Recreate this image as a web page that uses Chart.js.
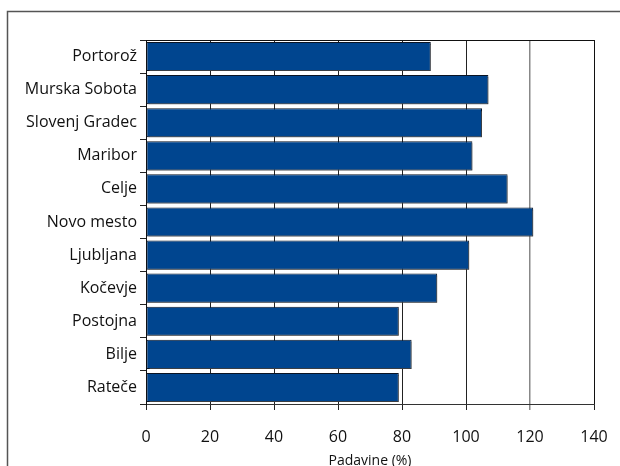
<!DOCTYPE html>
<html>
<head>
<meta charset="utf-8">
<script src="https://cdn.jsdelivr.net/npm/chart.js@4"></script>
<style>
  html, body { margin: 0; padding: 0; background: #fff; }
  #wrap { width: 620px; height: 466px; position: relative; }
</style>
</head>
<body>
<div id="wrap"><canvas id="chart" width="620" height="466"></canvas></div>
<script>
// Podatki - padavine v primerjavi s povprečjem
const stations = ['Portorož', 'Murska Sobota', 'Slovenj Gradec', 'Maribor', 'Celje',
    'Novo mesto', 'Ljubljana', 'Kočevje', 'Postojna', 'Bilje', 'Rateče'];
const precipitation = [89, 107, 105, 102, 113, 121, 101, 91, 79, 83, 79];
const xTicks = [0, 20, 40, 60, 80, 100, 120, 140];

const FONT = '"Open Sans", Roboto, sans-serif';

// okvir okrog slike + zgornja in desna črta risalne površine
const framePlugin = {
    id: 'frame',
    beforeDraw(chart) {
        const ctx = chart.ctx;
        ctx.save();
        ctx.strokeStyle = '#555';
        ctx.lineWidth = 1.5;
        ctx.beginPath();
        ctx.moveTo(7.5, 470);
        ctx.lineTo(7.5, 11.5);
        ctx.lineTo(625, 11.5);
        ctx.stroke();
        ctx.restore();
    },
    afterDraw(chart) {
        const { ctx, chartArea: a } = chart;
        ctx.save();
        ctx.strokeStyle = '#111';
        ctx.lineWidth = 1;
        ctx.beginPath();
        ctx.moveTo(a.left, a.top + 0.5);
        ctx.lineTo(a.right + 0.5, a.top + 0.5);
        ctx.lineTo(a.right + 0.5, a.bottom);
        ctx.stroke();
        ctx.restore();
    }
};

// senca pod stolpci
const shadowPlugin = {
    id: 'barShadow',
    beforeDatasetsDraw(chart) {
        const ctx = chart.ctx;
        ctx.save();
        ctx.shadowColor = 'rgba(90,90,90,0.6)';
        ctx.shadowOffsetX = 2;
        ctx.shadowOffsetY = 2;
        ctx.shadowBlur = 0;
    },
    afterDatasetsDraw(chart) {
        chart.ctx.restore();
    }
};

new Chart(document.getElementById('chart'), {
    type: 'bar',
    data: {
        labels: stations,
        datasets: [{
            data: precipitation,
            backgroundColor: '#00458F',
            borderColor: '#0a1424',
            borderWidth: 1,
            borderSkipped: false,
            barPercentage: 0.88,
            categoryPercentage: 1
        }]
    },
    plugins: [framePlugin, shadowPlugin],
    options: {
        indexAxis: 'y',
        responsive: false,
        animation: false,
        layout: { padding: { top: 40, right: 26, left: 0, bottom: 0 } },
        plugins: {
            legend: { display: false },
            tooltip: { enabled: false }
        },
        scales: {
            x: {
                min: 0,
                max: 140,
                afterBuildTicks: scale => { scale.ticks = xTicks.map(v => ({ value: v })); },
                afterFit: scale => {
                    scale.height = 62;
                    scale.paddingLeft = 0;
                    scale.paddingRight = 0;
                },
                grid: {
                    color: ctx => ctx.tick && ctx.tick.value === 120 ? '#888' : '#222',
                    lineWidth: ctx => ctx.tick && ctx.tick.value === 120 ? 1.5 : 1,
                    tickLength: 6,
                    drawOnChartArea: true
                },
                border: { color: '#333', width: 1 },
                ticks: {
                    color: '#111',
                    padding: 18,
                    font: { family: FONT, size: 16 }
                },
                title: {
                    display: true,
                    text: 'Padavine (%)',
                    color: '#111',
                    padding: { top: 0, bottom: -3 },
                    font: { family: FONT, size: 14 }
                }
            },
            y: {
                afterFit: scale => { scale.width = 146; },
                grid: {
                    offset: true,
                    drawOnChartArea: false,
                    color: '#222',
                    tickLength: 6
                },
                border: { color: '#111', width: 1 },
                ticks: {
                    color: '#111',
                    padding: 3,
                    font: { family: FONT, size: 16 }
                }
            }
        }
    }
});
</script>
</body>
</html>
